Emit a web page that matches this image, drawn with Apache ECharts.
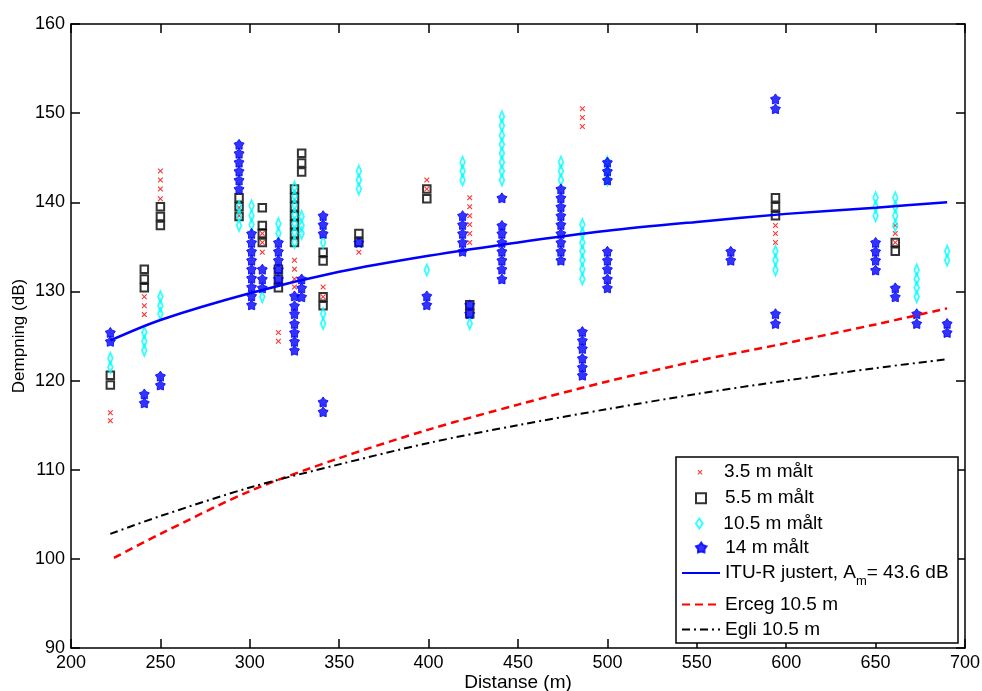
<!DOCTYPE html>
<html><head><meta charset="utf-8">
<script src="https://cdn.jsdelivr.net/npm/echarts@6/dist/echarts.min.js"></script>
<style>html,body{margin:0;padding:0;background:#fff}#c{width:982px;height:691px}</style>
</head><body><div id="c"></div>
<script>
// ---------- data ----------
const m35 = [
  [222,116.4],[222,115.5],
  [241,129.4],[241,128.4],[241,127.4],
  [250,143.5],[250,142.5],[250,141.5],[250,140.4],
  [294,139.4],[294,138.5],
  [307,136.5],[307,135.5],[307,134.4],
  [316,125.4],[316,124.4],
  [325,133.5],[325,132.5],[325,131.4],[325,130.5],
  [341,130.5],[341,129.4],
  [361,134.4],
  [399,142.5],[399,141.5],
  [423,140.5],[423,139.5],[423,138.5],[423,137.5],[423,136.5],[423,135.5],
  [486,150.5],[486,149.5],[486,148.5],
  [594,137.4],[594,136.5],[594,135.5],
  [661,137.4],[661,136.5],[661,135.5]
];
const m55 = [
  [222,120.6],[222,119.5],
  [241,132.5],[241,131.4],[241,130.4],
  [250,139.5],[250,138.4],[250,137.4],
  [294,140.5],[294,139.5],[294,138.4],
  [307,139.4],[307,137.4],[307,136.5],[307,135.5],
  [316,132.5],[316,131.4],[316,130.4],
  [325,141.5],[325,140.5],[325,139.5],[325,138.5],[325,137.5],[325,136.5],[325,135.5],
  [329,145.5],[329,144.4],[329,143.4],
  [341,134.4],[341,133.4],[341,129.4],[341,128.4],
  [361,136.5],[361,135.5],
  [399,141.5],[399,140.4],
  [423,128.5],[423,127.5],
  [594,140.5],[594,139.5],[594,138.5],
  [661,135.5],[661,134.5]
];
const m105 = [
  [222,122.5],[222,121.5],
  [241,125.4],[241,124.4],[241,123.4],
  [250,129.4],[250,128.4],[250,127.5],
  [294,139.5],[294,138.5],[294,137.4],
  [301,139.6],[301,138.5],[301,137.5],
  [307,129.4],
  [316,137.6],[316,136.5],
  [325,141.7],[325,140.7],[325,139.7],[325,138.6],[325,137.6],[325,136.6],[325,135.5],
  [329,138.4],[329,137.4],[329,136.5],
  [341,135.5],[341,127.5],[341,126.4],
  [361,143.5],[361,142.5],[361,141.5],
  [399,132.4],
  [419,144.5],[419,143.5],[419,142.5],
  [423,126.4],
  [441,149.6],[441,148.6],[441,147.5],[441,146.5],[441,145.5],[441,144.5],[441,143.5],[441,142.5],
  [474,144.5],[474,143.5],[474,142.5],
  [486,137.5],[486,136.5],[486,135.5],[486,134.5],[486,133.5],[486,132.5],[486,131.4],
  [500,144.5],[500,143.5],[500,142.5],
  [594,134.5],[594,133.5],[594,132.4],
  [650,140.5],[650,139.5],[650,138.5],
  [661,140.5],[661,139.5],[661,138.5],[661,137.4],
  [673,132.4],[673,131.4],[673,130.4],[673,129.4],
  [690,134.5],[690,133.5]
];
const m14 = [
  [222,125.4],[222,124.4],
  [241,118.5],[241,117.5],
  [250,120.5],[250,119.5],
  [294,146.5],[294,145.5],[294,144.5],[294,143.5],[294,142.5],[294,141.5],
  [301,136.5],[301,135.5],[301,134.5],[301,133.5],[301,132.5],[301,131.5],[301,130.5],[301,129.5],[301,128.5],
  [307,132.5],[307,131.4],[307,130.4],
  [316,135.5],[316,134.5],[316,133.5],[316,132.5],[316,131.4],
  [325,129.5],[325,128.4],[325,127.5],[325,126.4],[325,125.4],[325,124.4],[325,123.4],
  [329,131.4],[329,130.4],[329,129.4],
  [341,138.5],[341,137.5],[341,136.5],[341,117.6],[341,116.5],
  [361,135.5],
  [399,129.5],[399,128.5],
  [419,138.5],[419,137.5],[419,136.5],[419,135.5],[419,134.5],
  [423,128.5],[423,127.5],
  [441,140.5],[441,137.4],[441,136.5],[441,135.5],[441,134.5],[441,133.5],[441,132.5],[441,131.4],
  [474,141.5],[474,140.5],[474,139.5],[474,138.5],[474,137.5],[474,136.5],[474,135.5],[474,134.5],[474,133.5],
  [486,125.5],[486,124.5],[486,123.6],[486,122.5],[486,121.5],[486,120.6],
  [500,144.5],[500,143.5],[500,142.5],[500,134.5],[500,133.5],[500,132.5],[500,131.4],[500,130.4],
  [569,134.5],[569,133.5],
  [594,151.6],[594,150.5],[594,127.5],[594,126.4],
  [650,135.5],[650,134.5],[650,133.5],[650,132.4],
  [661,130.4],[661,129.4],
  [673,127.5],[673,126.4],
  [690,126.4],[690,125.4]
];
const ituDist   = [222, 250, 300, 350, 400, 450, 500, 550, 600, 650, 690];
const ituVals   = [124.5, 126.8, 129.8, 132.2, 134.0, 135.5, 136.8, 137.8, 138.7, 139.4, 140.0];
const ercegDist = [224, 250, 300, 350, 400, 450, 500, 550, 600, 650, 690];
const ercegVals = [100.1, 102.8, 107.6, 111.3, 114.5, 117.3, 119.9, 122.2, 124.2, 126.3, 128.1];
const egliDist  = [222, 250, 300, 350, 400, 450, 500, 550, 600, 650, 690];
const egliVals  = [102.8, 104.8, 108.0, 110.6, 113.0, 115.0, 116.8, 118.5, 120.0, 121.4, 122.4];
const seriesNames = ['3.5 m målt', '5.5 m målt', '10.5 m målt', '14 m målt',
                     'ITU-R justert, Am= 43.6 dB', 'Erceg 10.5 m', 'Egli 10.5 m'];
const xLabel = 'Distanse (m)';
const yLabel = 'Dempning (dB)';

// ---------- chart ----------
const FONT = "'Liberation Sans', Arial, Helvetica, sans-serif";
const zip = (a, b) => a.map((v, i) => [v, b[i]]);
const STAR = 'path://M50,0 L68.2,24.9 L97.6,34.5 L79.5,59.6 L79.4,90.5 L50,81 L20.6,90.5 L20.5,59.6 L2.4,34.5 L31.8,24.9 Z';
const XMARK = 'path://M0 0M10 10M2.5 3.2L3.2 2.5L5 4.3L6.8 2.5L7.5 3.2L5.7 5L7.5 6.8L6.8 7.5L5 5.7L3.2 7.5L2.5 6.8L4.3 5Z';
const DIAM = 'path://M3 0L6 4.5L3 9L0 4.5Z';
const SQR = 'path://M0 0L10 0L10 10L0 10Z';

const axLine = {show: true, onZero: false, lineStyle: {color: '#000', width: 1.5}};
const axTick = {show: true, inside: true, length: 9, lineStyle: {color: '#000', width: 1.5}};
const lbl = {color: '#000', fontSize: 18, fontFamily: FONT};

const rowCenters = [470.7, 496.7, 522, 546, 573, 603, 628];

const legends = seriesNames.map((n, i) => {
  const isItu = i === 4;
  const isLine = i >= 4;
  const lg = {
    data: [n],
    left: isLine ? 681 : 695,
    top: rowCenters[i] - (isItu ? 15 : 8),
    padding: 0,
    itemWidth: 38,
    itemHeight: 10,
    selectedMode: false,
    z: 6,
    textStyle: {
      color: '#000', fontSize: 19, fontFamily: FONT, lineHeight: 10,
      rich: {
        a: {color: '#000', fontSize: 19, fontFamily: FONT, lineHeight: 30},
        s: {color: '#000', fontSize: 13, fontFamily: FONT, lineHeight: 14, verticalAlign: 'bottom'}
      }
    }
  };
  if (isLine) lg.itemStyle = {opacity: 0};
  if (isItu) lg.formatter = () => '{a|ITU-R justert, A}{s|m}{a|= 43.6 dB}';
  return lg;
});

const chart = echarts.init(document.getElementById('c'), null, {renderer: 'canvas'});
chart.setOption({
  animation: false,
  backgroundColor: '#fff',
  grid: {left: 71, right: 17, top: 24, bottom: 43, containLabel: false, outerBoundsMode: 'none'},
  xAxis: [
    {type: 'value', min: 200, max: 700, interval: 50, position: 'bottom',
     name: xLabel, nameLocation: 'middle', nameGap: 25, nameMoveOverlap: false,
     nameTextStyle: {color: '#000', fontSize: 19, fontFamily: FONT},
     axisLine: axLine, axisTick: axTick, axisLabel: Object.assign({margin: 6}, lbl),
     splitLine: {show: false}},
    {type: 'value', min: 200, max: 700, interval: 50, position: 'top',
     axisLine: axLine, axisTick: axTick, axisLabel: {show: false}, splitLine: {show: false}}
  ],
  yAxis: [
    {type: 'value', min: 90, max: 160, interval: 10, position: 'left',
     name: yLabel, nameLocation: 'middle', nameGap: 43, nameMoveOverlap: false,
     nameTextStyle: {color: '#000', fontSize: 17, fontFamily: FONT},
     axisLine: axLine, axisTick: axTick, axisLabel: Object.assign({margin: 6}, lbl),
     splitLine: {show: false}},
    {type: 'value', min: 90, max: 160, interval: 10, position: 'right',
     axisLine: axLine, axisTick: axTick, axisLabel: {show: false}, splitLine: {show: false}}
  ],
  legend: legends,
  graphic: [{
    type: 'rect', z: 5,
    shape: {x: 676, y: 457, width: 282, height: 186},
    style: {fill: '#fff', stroke: '#000', lineWidth: 1.5}
  }],
  series: [
    {name: seriesNames[0], type: 'scatter', data: m35, symbol: XMARK, symbolSize: 11,
     itemStyle: {color: '#ff0000'}},
    {name: seriesNames[1], type: 'scatter', data: m55, symbol: SQR, symbolSize: 7.5,
     itemStyle: {color: 'rgba(255,255,255,0)', borderColor: '#000', borderWidth: 2}},
    {name: seriesNames[2], type: 'scatter', data: m105, symbol: DIAM, symbolSize: [7, 11],
     symbolKeepAspect: true,
     itemStyle: {color: 'rgba(255,255,255,0)', borderColor: '#00ffff', borderWidth: 2}},
    {name: seriesNames[3], type: 'scatter', data: m14, symbol: STAR, symbolSize: 10,
     itemStyle: {color: '#0000ff', borderColor: '#0000ff', borderWidth: 1}},
    {name: seriesNames[4], type: 'line', data: zip(ituDist, ituVals), symbol: 'none',
     smooth: 0.3, lineStyle: {color: '#0000ff', width: 2.5}, itemStyle: {color: '#0000ff'}},
    {name: seriesNames[5], type: 'line', data: zip(ercegDist, ercegVals), symbol: 'none',
     smooth: 0.3, lineStyle: {color: '#ff0000', width: 2.5, type: [8, 5]}, itemStyle: {color: '#ff0000'}},
    {name: seriesNames[6], type: 'line', data: zip(egliDist, egliVals), symbol: 'none',
     smooth: 0.3, lineStyle: {color: '#000', width: 2, type: [8, 4, 2, 4]}, itemStyle: {color: '#000'}}
  ]
});
</script>
</body></html>
